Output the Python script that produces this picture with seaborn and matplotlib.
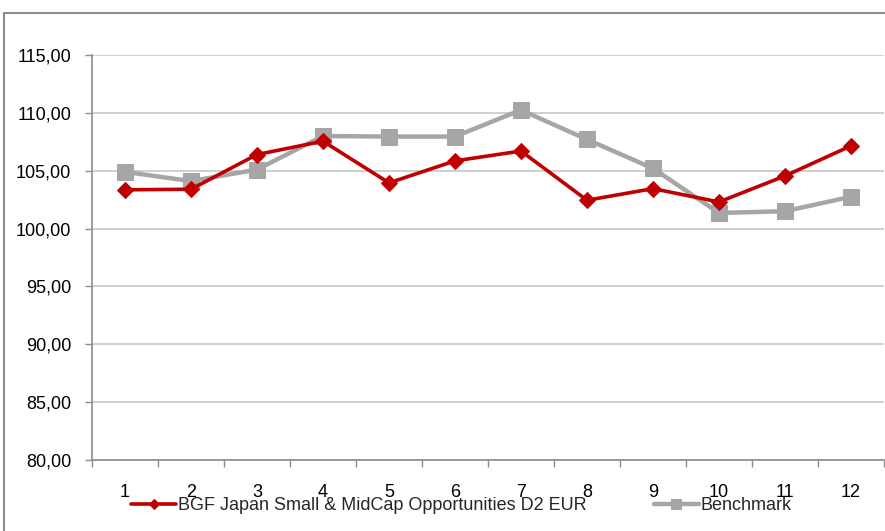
import pandas as pd
import matplotlib.pyplot as plt
import matplotlib.patches as patches
from matplotlib.ticker import FuncFormatter, FixedLocator
import seaborn as sns

# data
months = list(range(1, 13))
fund_name = "BGF Japan Small & MidCap Opportunities D2 EUR"
fund = [103.35, 103.4, 106.4, 107.55, 103.95, 105.85, 106.7, 102.45, 103.45, 102.3, 104.55, 107.15]
bench_name = "Benchmark"
bench = [104.9, 104.1, 105.1, 108.0, 107.95, 107.95, 110.25, 107.7, 105.2, 101.35, 101.5, 102.75]
y_ticks = [80, 85, 90, 95, 100, 105, 110, 115]

df = pd.DataFrame({"month": months + months,
                   "value": fund + bench,
                   "series": [fund_name] * 12 + [bench_name] * 12})

sns.set_style("white")
plt.rcParams["font.family"] = ["Liberation Sans", "DejaVu Sans"]

fig = plt.figure(figsize=(8.85, 5.31), dpi=100)
ax = fig.add_axes([92 / 885, 1 - 460 / 531, 792 / 885, 405 / 531])

# outer frame of the chart area
fig.patches.append(patches.Rectangle((4 / 885, -0.1), 1.2, 1 - 13 / 531 + 0.1,
                                     transform=fig.transFigure, fill=False,
                                     edgecolor="#8c8c8c", linewidth=1.5, zorder=0))

red, gray = "#C00000", "#A6A6A6"
sns.lineplot(data=df[df.series == fund_name], x="month", y="value", ax=ax,
             color=red, linewidth=2.6, marker="D", markersize=8,
             markeredgecolor=red, label=fund_name, zorder=4)
sns.lineplot(data=df[df.series == bench_name], x="month", y="value", ax=ax,
             color=gray, linewidth=3.2, marker="s", markersize=11,
             markeredgecolor=gray, label=bench_name, zorder=3)

ax.set_xlim(0.5, 12.5)
ax.set_ylim(80, 115)
ax.set_yticks(y_ticks)
ax.yaxis.set_major_formatter(FuncFormatter(lambda v, p: f"{v:.2f}".replace(".", ",")))
ax.set_xticks(months)
ax.xaxis.set_minor_locator(FixedLocator([m + 0.5 for m in [0] + months]))
ax.tick_params(axis="x", which="major", length=0, pad=17, labelsize=13, colors="black")
ax.tick_params(axis="x", which="minor", length=5, width=1, color="#8c8c8c", direction="out")
ax.tick_params(axis="y", length=5, width=1, color="#8c8c8c", direction="out",
               labelsize=13, pad=10, labelcolor="black")
ax.tick_params(bottom=True, left=True, which="both")
ax.tick_params(axis="x", which="major", bottom=False)
ax.grid(axis="y", color="#c8c8c8", linewidth=1.2)
ax.set_axisbelow(True)
ax.set_xlabel("")
ax.set_ylabel("")
for side in ["top", "right"]:
    ax.spines[side].set_visible(False)
for side in ["left", "bottom"]:
    ax.spines[side].set_color("#8c8c8c")
    ax.spines[side].set_linewidth(1.2)

ax.legend(loc="center", bbox_to_anchor=(0.4665, -0.113), ncol=2, frameon=False,
          fontsize=13, handlelength=2.5, handletextpad=0.1, columnspacing=3.7,
          markerscale=0.7)

plt.savefig("out.png", dpi=100)
